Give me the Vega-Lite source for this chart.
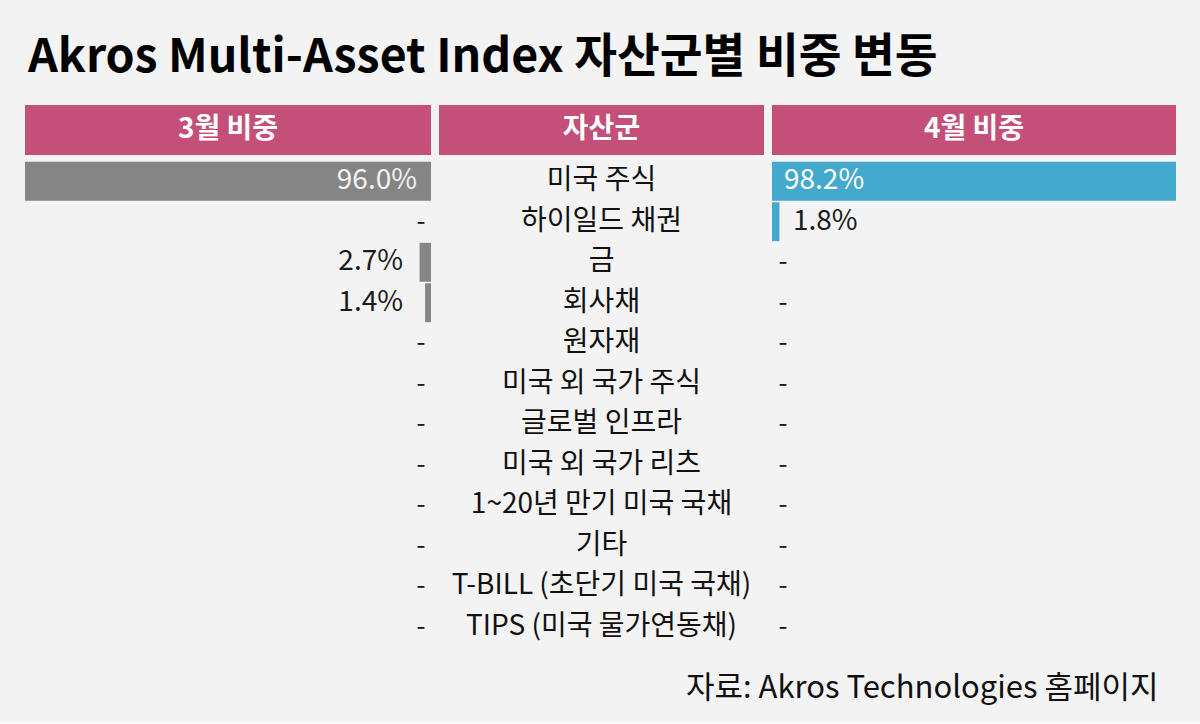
{
  "$schema": "https://vega.github.io/schema/vega-lite/v6.json",
  "background": "#f3f3f3",
  "padding": {"left": 25, "top": 35, "right": 24, "bottom": 20},
  "config": {
    "font": "Noto Sans CJK KR",
    "view": {"stroke": null},
    "concat": {"spacing": 8}
  },
  "title": {
    "text": "Akros Multi-Asset Index 자산군별 비중 변동",
    "anchor": "start",
    "fontSize": 46.5,
    "fontWeight": "bold",
    "color": "#000000",
    "offset": 23.5,
    "dx": 3
  },
  "datasets": {
    "assets": [
      {"asset": "미국 주식", "m3": 0.96, "m4": 0.982},
      {"asset": "하이일드 채권", "m3": null, "m4": 0.018},
      {"asset": "금", "m3": 0.027, "m4": null},
      {"asset": "회사채", "m3": 0.014, "m4": null},
      {"asset": "원자재", "m3": null, "m4": null},
      {"asset": "미국 외 국가 주식", "m3": null, "m4": null},
      {"asset": "글로벌 인프라", "m3": null, "m4": null},
      {"asset": "미국 외 국가 리츠", "m3": null, "m4": null},
      {"asset": "1~20년 만기 미국 국채", "m3": null, "m4": null},
      {"asset": "기타", "m3": null, "m4": null},
      {"asset": "T-BILL (초단기 미국 국채)", "m3": null, "m4": null},
      {"asset": "TIPS (미국 물가연동채)", "m3": null, "m4": null}
    ]
  },
  "spacing": 6,
  "vconcat": [
    {
      "hconcat": [
        {
          "width": 406, "height": 50,
          "view": {"fill": "#c4507a", "stroke": null},
          "data": {"values": [{"h": "3월 비중"}]},
          "mark": {"type": "text", "color": "#ffffff", "fontSize": 28, "fontWeight": "bold"},
          "encoding": {"text": {"field": "h"}}
        },
        {
          "width": 325, "height": 50,
          "view": {"fill": "#c4507a", "stroke": null},
          "data": {"values": [{"h": "자산군"}]},
          "mark": {"type": "text", "color": "#ffffff", "fontSize": 28, "fontWeight": "bold"},
          "encoding": {"text": {"field": "h"}}
        },
        {
          "width": 404, "height": 50,
          "view": {"fill": "#c4507a", "stroke": null},
          "data": {"values": [{"h": "4월 비중"}]},
          "mark": {"type": "text", "color": "#ffffff", "fontSize": 28, "fontWeight": "bold"},
          "encoding": {"text": {"field": "h"}}
        }
      ]
    },
    {
      "bounds": "flush",
      "hconcat": [
        {
          "width": 406, "height": 486,
          "data": {"name": "assets"},
          "encoding": {
            "y": {"field": "asset", "type": "nominal", "sort": null, "axis": null,
                  "scale": {"paddingInner": 0.04, "paddingOuter": 0.02,
                            "domain": ["미국 주식", "하이일드 채권", "금", "회사채", "원자재", "미국 외 국가 주식", "글로벌 인프라", "미국 외 국가 리츠", "1~20년 만기 미국 국채", "기타", "T-BILL (초단기 미국 국채)", "TIPS (미국 물가연동채)"]}}
          },
          "layer": [
            {
              "mark": {"type": "bar", "color": "#858585"},
              "encoding": {
                "x": {"field": "m3", "type": "quantitative", "axis": null,
                      "scale": {"domain": [0, 0.96], "reverse": true, "nice": false}}
              }
            },
            {
              "transform": [{"filter": "datum.m3 != null && datum.m3 >= 0.5"}],
              "mark": {"type": "text", "align": "right", "dx": -14, "fontSize": 28, "color": "#f2f2f2"},
              "encoding": {
                "x": {"datum": 0, "type": "quantitative"},
                "text": {"field": "m3", "type": "quantitative", "format": ".1%"}
              }
            },
            {
              "transform": [{"filter": "datum.m3 != null && datum.m3 < 0.5"}],
              "mark": {"type": "text", "align": "right", "dx": -28, "fontSize": 28, "color": "#1a1a1a"},
              "encoding": {
                "x": {"datum": 0, "type": "quantitative"},
                "text": {"field": "m3", "type": "quantitative", "format": ".1%"}
              }
            },
            {
              "transform": [{"filter": "datum.m3 == null"}],
              "mark": {"type": "text", "align": "center", "dx": -10, "fontSize": 26, "color": "#1a1a1a"},
              "encoding": {
                "x": {"datum": 0, "type": "quantitative"},
                "text": {"value": "-"}
              }
            }
          ]
        },
        {
          "width": 325, "height": 486,
          "data": {"name": "assets"},
          "mark": {"type": "text", "fontSize": 28, "color": "#111111"},
          "encoding": {
            "y": {"field": "asset", "type": "nominal", "sort": null, "axis": null,
                  "scale": {"paddingInner": 0.04, "paddingOuter": 0.02}},
            "text": {"field": "asset"}
          }
        },
        {
          "width": 404, "height": 486,
          "data": {"name": "assets"},
          "encoding": {
            "y": {"field": "asset", "type": "nominal", "sort": null, "axis": null,
                  "scale": {"paddingInner": 0.04, "paddingOuter": 0.02,
                            "domain": ["미국 주식", "하이일드 채권", "금", "회사채", "원자재", "미국 외 국가 주식", "글로벌 인프라", "미국 외 국가 리츠", "1~20년 만기 미국 국채", "기타", "T-BILL (초단기 미국 국채)", "TIPS (미국 물가연동채)"]}}
          },
          "layer": [
            {
              "mark": {"type": "bar", "color": "#43a9cd"},
              "encoding": {
                "x": {"field": "m4", "type": "quantitative",
                      "scale": {"domain": [0, 0.982], "nice": false},
                      "axis": {"domain": false, "ticks": false, "labels": false, "grid": false,
                               "title": "자료: Akros Technologies 홈페이지",
                               "titleFontSize": 31, "titleFontWeight": "normal", "titleColor": "#111111",
                               "titleAnchor": "end", "titleAlign": "right", "titleBaseline": "alphabetic",
                               "titleX": 386, "titleY": 50}}
              }
            },
            {
              "transform": [{"filter": "datum.m4 != null && datum.m4 >= 0.5"}],
              "mark": {"type": "text", "align": "left", "dx": 12, "fontSize": 28, "color": "#ffffff"},
              "encoding": {
                "x": {"datum": 0, "type": "quantitative"},
                "text": {"field": "m4", "type": "quantitative", "format": ".1%"}
              }
            },
            {
              "transform": [{"filter": "datum.m4 != null && datum.m4 < 0.5"}],
              "mark": {"type": "text", "align": "left", "dx": 21, "fontSize": 28, "color": "#1a1a1a"},
              "encoding": {
                "x": {"datum": 0, "type": "quantitative"},
                "text": {"field": "m4", "type": "quantitative", "format": ".1%"}
              }
            },
            {
              "transform": [{"filter": "datum.m4 == null"}],
              "mark": {"type": "text", "align": "center", "dx": 11, "fontSize": 26, "color": "#1a1a1a"},
              "encoding": {
                "x": {"datum": 0, "type": "quantitative"},
                "text": {"value": "-"}
              }
            }
          ]
        }
      ]
    }
  ]
}
